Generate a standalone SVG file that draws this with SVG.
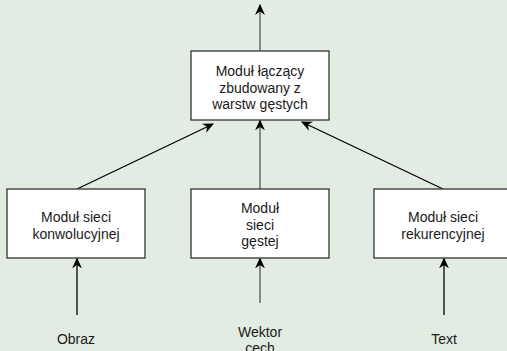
<svg xmlns="http://www.w3.org/2000/svg" width="507" height="351" viewBox="0 0 507 351">
<defs>
<style>
.box{fill:#ffffff;stroke:#333333;stroke-width:1.3}
.t{font-family:"Liberation Sans",Arial,sans-serif;font-size:14px;fill:#1a1a1a;text-anchor:middle}
.c{fill:none;stroke:#000000;stroke-width:1.3}
.g{stroke:#555555}
</style>
<marker id="ah" viewBox="0 0 10 10" refX="9" refY="5" markerWidth="11" markerHeight="11" markerUnits="userSpaceOnUse" orient="auto">
<path d="M0,0.5 L10,5 L0,9.5 L3,5 Z" fill="#000000"/>
</marker>
</defs>
<rect x="0" y="0" width="507" height="351" fill="#e3ece3"/>
<g id="connectors">
<line class="c g" x1="260" y1="51" x2="260" y2="5" marker-end="url(#ah)"/>
<line class="c" x1="77" y1="189" x2="213" y2="124" marker-end="url(#ah)"/>
<line class="c g" x1="260" y1="189" x2="260" y2="120.5" marker-end="url(#ah)"/>
<line class="c" x1="443" y1="189" x2="302" y2="122" marker-end="url(#ah)"/>
<line class="c" x1="77" y1="315" x2="77" y2="258.5" marker-end="url(#ah)"/>
<line class="c g" x1="260" y1="303" x2="260" y2="258.5" marker-end="url(#ah)"/>
<line class="c" x1="444" y1="315" x2="444" y2="258.5" marker-end="url(#ah)"/>
</g>
<g id="top">
<rect class="box" x="191" y="51" width="138" height="69"/>
<text class="t" x="260" y="76">Moduł łączący</text>
<text class="t" x="260" y="92.5">zbudowany z</text>
<text class="t" x="260" y="108.5">warstw gęstych</text>
</g>
<g id="conv">
<rect class="box" x="7" y="189" width="138" height="69"/>
<text class="t" x="76" y="222">Moduł sieci</text>
<text class="t" x="76" y="238.5">konwolucyjnej</text>
</g>
<g id="dense">
<rect class="box" x="191" y="189" width="138" height="69"/>
<text class="t" x="260" y="213">Moduł</text>
<text class="t" x="260" y="229.5">sieci</text>
<text class="t" x="260" y="245.5">gęstej</text>
</g>
<g id="rec">
<rect class="box" x="374" y="189" width="138" height="69"/>
<text class="t" x="443" y="222">Moduł sieci</text>
<text class="t" x="443" y="238.5">rekurencyjnej</text>
</g>
<g id="in-obraz"><text class="t" x="76" y="344">Obraz</text></g>
<g id="in-wektor"><text class="t" x="260" y="337">Wektor</text><text class="t" x="260" y="353">cech</text></g>
<g id="in-text"><text class="t" x="444" y="344">Text</text></g>
</svg>
